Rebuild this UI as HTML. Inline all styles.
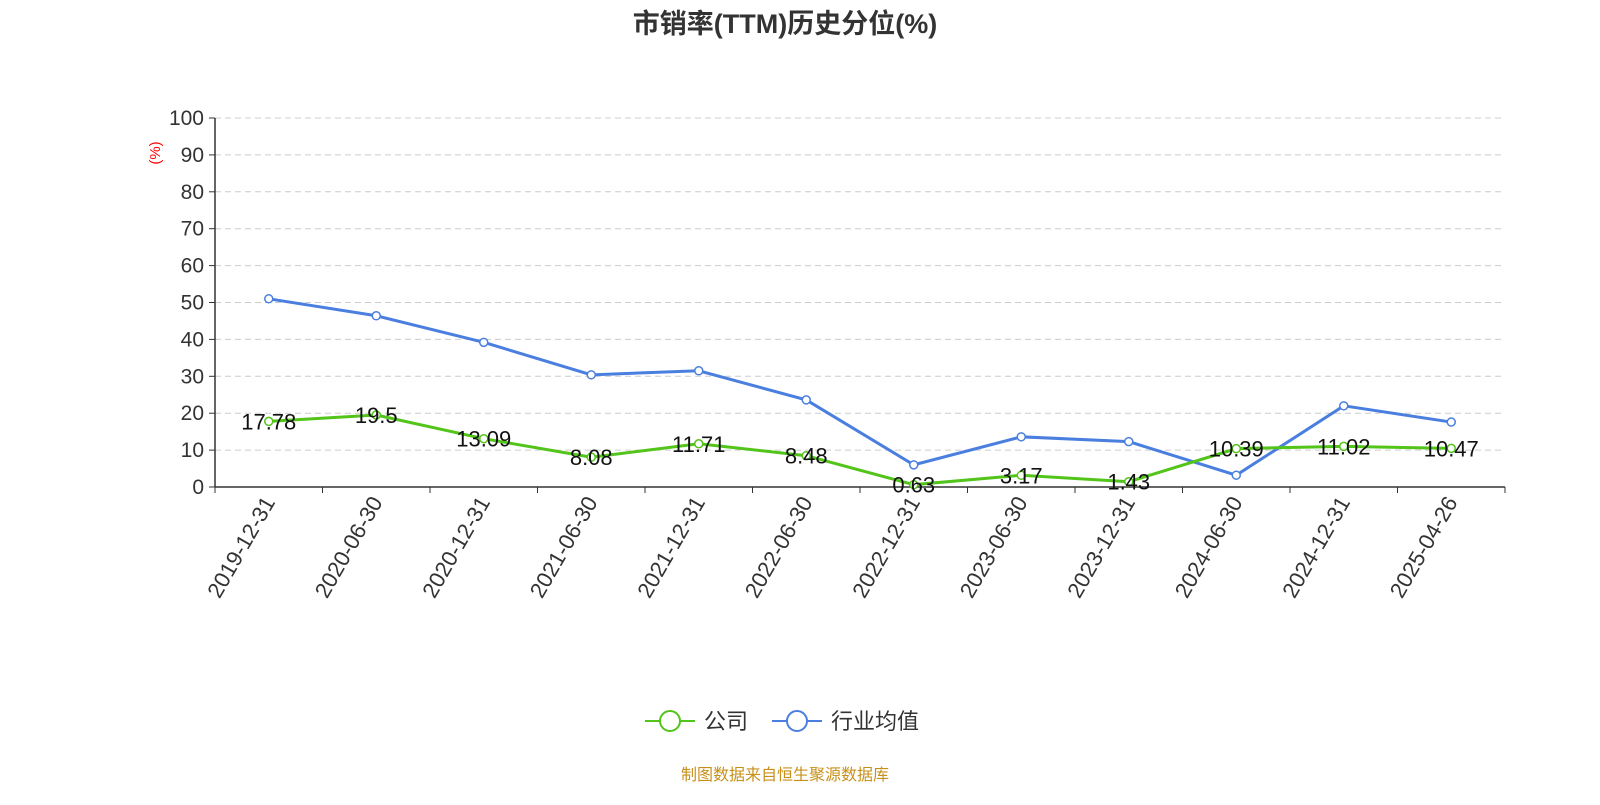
<!DOCTYPE html>
<html><head><meta charset="utf-8"><style>
body{margin:0;background:#fff;font-family:"Liberation Sans","Noto Sans CJK SC",sans-serif}
</style></head><body>
<svg id="chart" width="1600" height="800" style="font-family:'Liberation Sans','Noto Sans CJK SC',sans-serif">
<text x="785" y="33" text-anchor="middle" font-size="27" font-weight="bold" fill="#333">市销率(TTM)历史分位(%)</text>
<text transform="translate(160,153) rotate(-90)" text-anchor="middle" font-size="15" fill="red">(%)</text>
<g id="grid"></g><g id="axes"></g><g id="series"></g>
<g>
<line x1="645" y1="721" x2="695" y2="721" stroke="#52c41a" stroke-width="2"/>
<circle cx="670" cy="721" r="10" fill="#fff" stroke="#52c41a" stroke-width="2"/>
<text x="704" y="729" font-size="22" fill="#333">公司</text>
<line x1="772" y1="721" x2="822" y2="721" stroke="#4a7fe0" stroke-width="2"/>
<circle cx="797" cy="721" r="10" fill="#fff" stroke="#4a7fe0" stroke-width="2"/>
<text x="831" y="729" font-size="22" fill="#333">行业均值</text>
</g>
<text x="785" y="780" text-anchor="middle" font-size="16" fill="#c8901a">制图数据来自恒生聚源数据库</text>
</svg>
<script>
const categories=["2019-12-31","2020-06-30","2020-12-31","2021-06-30","2021-12-31","2022-06-30","2022-12-31","2023-06-30","2023-12-31","2024-06-30","2024-12-31","2025-04-26"];
const companyValues=[17.78,19.5,13.09,8.08,11.71,8.48,0.63,3.17,1.43,10.39,11.02,10.47];
const industryValues=[51,46.4,39.2,30.4,31.5,23.6,6,13.6,12.3,3.2,22,17.6];
const yTicks=[0,10,20,30,40,50,60,70,80,90,100];
const NS="http://www.w3.org/2000/svg";
const x0=215,x1=1505,y0=487,y1=118;
const bw=(x1-x0)/categories.length;
const xs=i=>x0+bw*(i+0.5);
const ys=v=>y0-(v/100)*(y0-y1);
function mk(t,a,p){const e=document.createElementNS(NS,t);for(const k in a)e.setAttribute(k,a[k]);p.appendChild(e);return e;}
const grid=document.getElementById('grid'),axes=document.getElementById('axes'),ser=document.getElementById('series');
yTicks.forEach(v=>{
 if(v>0){const g=mk('line',{x1:x0,x2:x1,y1:ys(v),y2:ys(v),stroke:'#ccc','stroke-dasharray':'6,4'},grid);
 
 }
 mk('line',{x1:x0-6,x2:x0,y1:ys(v),y2:ys(v),stroke:'#333'},axes);
 const t=mk('text',{x:x0-11,y:ys(v)+7,'text-anchor':'end','font-size':21,fill:'#333'},axes);t.textContent=v;
 
 
});
mk('line',{x1:x0,x2:x0,y1:y1,y2:y0,stroke:'#333','stroke-width':1.5},axes);
mk('line',{x1:x0,x2:x1,y1:y0,y2:y0,stroke:'#333','stroke-width':1.5},axes);
for(let i=0;i<=categories.length;i++)mk('line',{x1:x0+bw*i,x2:x0+bw*i,y1:y0,y2:y0+6,stroke:'#333'},axes);
categories.forEach((c,i)=>{
 const t=mk('text',{transform:`translate(${xs(i)+7},${y0+15}) rotate(-60)`,'text-anchor':'end','font-size':22,fill:'#333'},axes);t.textContent=c;
 
 
});
function series(vals,color,name,labels){
 const p=mk('polyline',{points:vals.map((v,i)=>xs(i)+','+ys(v)).join(' '),fill:'none',stroke:color,'stroke-width':3},ser);
 
 
 vals.forEach((v,i)=>{
  const c=mk('circle',{cx:xs(i),cy:ys(v),r:4,fill:'#fff',stroke:color,'stroke-width':1.5},ser);
  
  
  if(labels){const t=mk('text',{x:xs(i),y:ys(v)+8,'text-anchor':'middle','font-size':22,fill:'#111'},ser);t.textContent=v;
  
  }
 });
}
series(industryValues,'#4a7fe0','industry',false);
series(companyValues,'#52c41a','company',true);
</script>
</body></html>
